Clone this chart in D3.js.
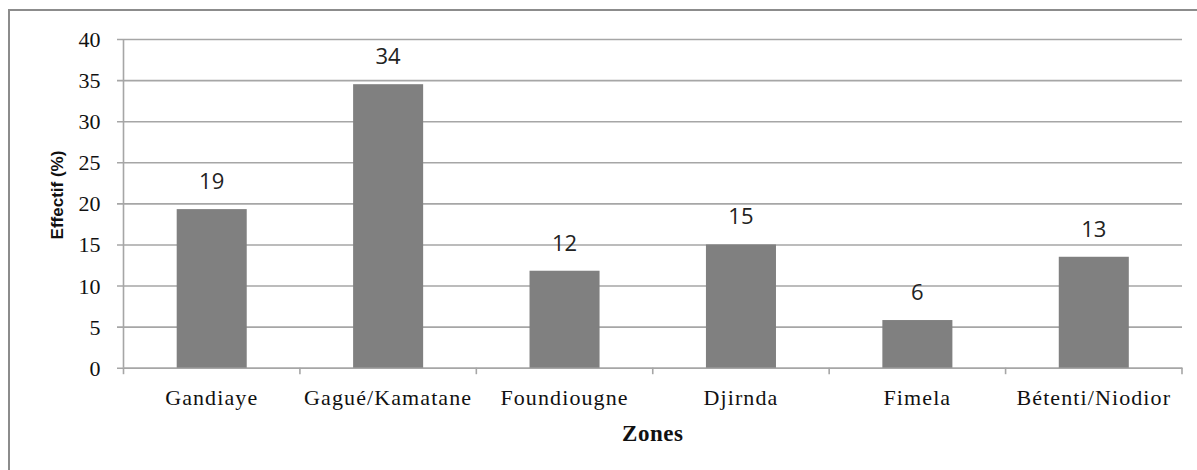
<!DOCTYPE html>
<html>
<head>
<meta charset="utf-8">
<script src="https://cdn.jsdelivr.net/npm/d3@7/dist/d3.min.js"></script>
<style>
  html, body { margin: 0; padding: 0; background: #fff; }
  svg { display: block; }
</style>
</head>
<body>
<svg id="chart" width="1197" height="470"></svg>
<script>
const categories = ["Gandiaye", "Gagué/Kamatane", "Foundiougne", "Djirnda", "Fimela", "Bétenti/Niodior"];
const values = [19.3, 34.5, 11.8, 15.0, 5.8, 13.5];
const valueLabels = ["19", "34", "12", "15", "6", "13"];
const yTicks = [0, 5, 10, 15, 20, 25, 30, 35, 40];
const yTitle = "Effectif (%)";
const xTitle = "Zones";

const svg = d3.select("#chart");
const W = 1197, H = 470;
const plot = { left: 123.5, right: 1182, top: 39, bottom: 367.7 };

// outer border
svg.append("rect")
  .attr("x", 9).attr("y", 10)
  .attr("width", W + 10).attr("height", H + 10)
  .attr("fill", "#fff")
  .attr("stroke", "#8c8c8c").attr("stroke-width", 2);

const x = d3.scaleBand().domain(categories).range([plot.left, plot.right]).padding(0);
const y = d3.scaleLinear().domain([0, 40]).range([plot.bottom, plot.top]);
const barW = x.bandwidth() * 0.397;

// gridlines + y ticks
const yAxis = d3.axisLeft(y).tickValues(yTicks).tickSize(-(plot.right - plot.left)).tickSizeOuter(0).tickPadding(23);
const gy = svg.append("g").attr("transform", `translate(${plot.left},0)`).call(yAxis);
gy.select(".domain").remove();
gy.selectAll(".tick line").attr("stroke", "#a6a6a6").attr("stroke-width", 1.6).attr("x1", -6.5);
gy.selectAll(".tick text")
  .attr("font-family", "'Liberation Serif', 'Times New Roman', serif")
  .attr("font-size", 22).attr("fill", "#111")
  .attr("dy", "0.34em");

// y axis line
svg.append("line")
  .attr("x1", plot.left).attr("x2", plot.left)
  .attr("y1", plot.top).attr("y2", plot.bottom)
  .attr("stroke", "#a6a6a6").attr("stroke-width", 1.6);

// x axis
const xAxis = d3.axisBottom(x).tickSize(0).tickSizeOuter(0).tickPadding(0);
const gx = svg.append("g").attr("transform", `translate(0,${plot.bottom})`).call(xAxis);
gx.select(".domain").attr("stroke", "#a6a6a6").attr("stroke-width", 1.6);
gx.selectAll(".tick line").remove();
gx.selectAll(".tick text")
  .attr("font-family", "'Liberation Serif', 'Times New Roman', serif")
  .attr("font-size", 22).attr("fill", "#111")
  .attr("letter-spacing", 1.1)
  .attr("dy", 0).attr("y", 405 - plot.bottom);

// category boundary ticks
const boundaries = categories.map(c => x(c)).concat([plot.right]);
svg.append("g").selectAll("line").data(boundaries).join("line")
  .attr("x1", d => d).attr("x2", d => d)
  .attr("y1", plot.bottom).attr("y2", plot.bottom + 6.5)
  .attr("stroke", "#a6a6a6").attr("stroke-width", 1.6);

// bars
svg.append("g").selectAll("rect").data(values).join("rect")
  .attr("x", (d, i) => x(categories[i]) + x.bandwidth() / 2 - barW / 2)
  .attr("y", d => y(d))
  .attr("width", barW)
  .attr("height", d => y(0) - y(d))
  .attr("fill", "#808080");

// value labels
svg.append("g").selectAll("text").data(values).join("text")
  .attr("x", (d, i) => x(categories[i]) + x.bandwidth() / 2)
  .attr("y", d => y(d) - 20)
  .attr("text-anchor", "middle")
  .attr("font-family", "'Open Sans', 'Noto Sans', sans-serif")
  .attr("font-size", 22).attr("fill", "#222")
  .text((d, i) => valueLabels[i]);

// y title
svg.append("text")
  .attr("transform", `translate(63,195) rotate(-90)`)
  .attr("text-anchor", "middle")
  .attr("font-family", "'Liberation Sans', Arial, sans-serif")
  .attr("font-weight", "bold")
  .attr("font-size", 17).attr("fill", "#111")
  .text(yTitle);

// x title
svg.append("text")
  .attr("x", (plot.left + plot.right) / 2).attr("y", 441)
  .attr("text-anchor", "middle")
  .attr("font-family", "'Liberation Serif', 'Times New Roman', serif")
  .attr("font-weight", "bold")
  .attr("font-size", 23).attr("letter-spacing", 0.5).attr("fill", "#111")
  .text(xTitle);
</script>
</body>
</html>
